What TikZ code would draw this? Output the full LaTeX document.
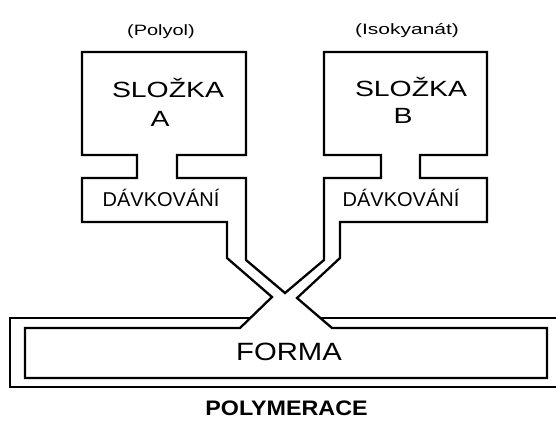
\documentclass[tikz,border=0pt]{standalone}
\usepackage{fontspec}
\usepackage{graphicx}
\setmainfont{Liberation Sans}
\begin{document}
\begin{tikzpicture}[x=1pt,y=-1pt,
  wall/.style={line width=2.3pt, line join=miter},
  lbl/.style={anchor=base, inner sep=0pt}]
\clip (0,0) rectangle (556,420);
\fill[white] (0,0) rectangle (556,420);
% tanks, necks, dosing units, feed channels and inner mould wall as one outline
\draw[wall] (285,293) -- (246,260) -- (246,178) -- (177,178) -- (177,155)
  -- (246,155) -- (246,52) -- (82,52) -- (82,155) -- (137,155) -- (137,178)
  -- (82,178) -- (82,222) -- (227,222) -- (227,258) -- (272,297) -- (240,328)
  -- (25,328) -- (25,378) -- (547,378) -- (547,328) -- (332,328) -- (297,298)
  -- (340,258) -- (340,222) -- (487,222) -- (487,178) -- (420,178) -- (420,155)
  -- (487,155) -- (487,52) -- (324,52) -- (324,155) -- (381,155) -- (381,178)
  -- (324,178) -- (324,260) -- cycle;
% outer mould wall
\draw[wall] (250.3,318) -- (10,318) -- (10,387) -- (570,387);
\draw[wall] (570,318) -- (320.3,318);
% labels
\node[lbl] (polyol) at (161,36) {\fontsize{15}{15}\selectfont\scalebox{1.33}[1]{(Polyol)}};
\node[lbl] (iso) at (407,35) {\fontsize{15}{15}\selectfont\scalebox{1.4}[1]{(Isokyanát)}};
\node[lbl] (slozkaA) at (168,97) {\fontsize{22}{22}\selectfont\scalebox{1.29}[1]{SLOŽKA}};
\node[lbl] (letterA) at (160,126) {\fontsize{22}{22}\selectfont\scalebox{1.29}[1]{A}};
\node[lbl] (slozkaB) at (411,96) {\fontsize{22}{22}\selectfont\scalebox{1.29}[1]{SLOŽKA}};
\node[lbl] (letterB) at (403,123) {\fontsize{22}{22}\selectfont\scalebox{1.29}[1]{B}};
\node[lbl] (davkA) at (161,206) {\fontsize{20}{20}\selectfont DÁVKOVÁNÍ};
\node[lbl] (davkB) at (401,206) {\fontsize{20}{20}\selectfont DÁVKOVÁNÍ};
\node[lbl] (forma) at (289,360) {\fontsize{25}{25}\selectfont\scalebox{1.17}[1]{FORMA}};
\node[lbl] (polym) at (286.5,415) {\fontsize{21}{21}\selectfont\bfseries\scalebox{1.11}[1]{POLYMERACE}};
\end{tikzpicture}
\end{document}
